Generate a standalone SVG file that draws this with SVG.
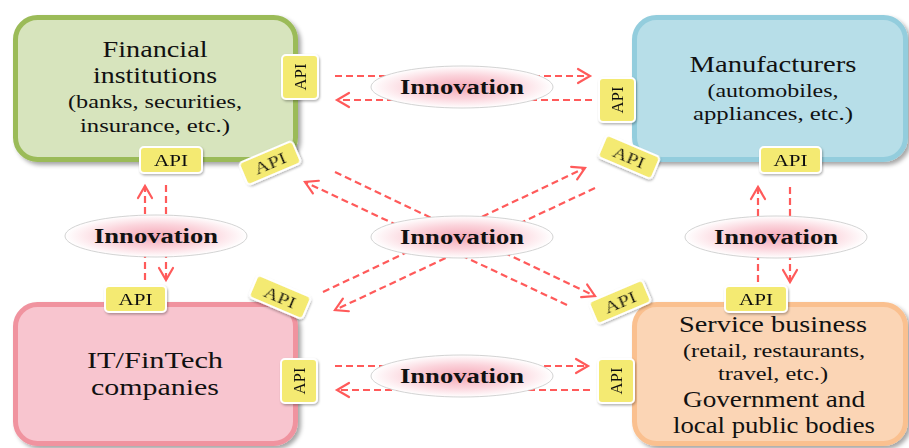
<svg xmlns="http://www.w3.org/2000/svg" width="909" height="448" viewBox="0 0 909 448">
<defs>
  <filter id="sh" x="-10%" y="-10%" width="125%" height="125%">
    <feDropShadow dx="3" dy="3" stdDeviation="2" flood-color="#000" flood-opacity="0.35"/>
  </filter>
  <filter id="sh2" x="-20%" y="-20%" width="150%" height="150%">
    <feDropShadow dx="1" dy="1.5" stdDeviation="1" flood-color="#000" flood-opacity="0.3"/>
  </filter>
  <radialGradient id="pinkglow" cx="50%" cy="50%" r="50%">
    <stop offset="0" stop-color="#f5a9b8"/>
    <stop offset="0.55" stop-color="#fbd3db"/>
    <stop offset="1" stop-color="#ffffff"/>
  </radialGradient>
  <marker id="ah" markerUnits="userSpaceOnUse" markerWidth="18" markerHeight="18" refX="15" refY="9" orient="auto" overflow="visible">
    <path d="M3,2 L15,9 L3,16" fill="none" stroke="#ff5a5a" stroke-width="2.2" stroke-dasharray="none" stroke-linecap="round" stroke-linejoin="miter"/>
  </marker>
</defs>
<style>
  .t { font-family: "Liberation Serif", "Times New Roman", serif; fill: #111; text-anchor: middle; }
  .big { font-size: 23px; }
  .mid { font-size: 19px; }
  .inno { font-family: "Liberation Serif", "Times New Roman", serif; font-weight: bold; font-size: 20px; fill: #111; text-anchor: middle; }
  .api { font-family: "Liberation Serif", "Times New Roman", serif; font-size: 16px; fill: #111; text-anchor: middle; }
  .apibox { fill: #f4ea72; stroke: #ffffff; stroke-width: 2; }
  .ell { fill: url(#pinkglow); stroke: #c8c8c8; stroke-width: 0.8; }
  .conn { fill: none; stroke: #ff5a5a; stroke-width: 2.2; stroke-dasharray: 7 4; marker-end: url(#ah); }
</style>
<rect width="909" height="448" fill="#ffffff"/>

<g id="financial">
  <rect x="15.5" y="17.5" width="280" height="142" rx="22" fill="#d7e4bd" stroke="#9bbb59" stroke-width="5" filter="url(#sh)"/>
  <text class="t big" x="155" y="57" textLength="105" lengthAdjust="spacingAndGlyphs">Financial</text>
  <text class="t big" x="155" y="83" textLength="124" lengthAdjust="spacingAndGlyphs">institutions</text>
  <text class="t mid" x="155" y="108" textLength="174" lengthAdjust="spacingAndGlyphs">(banks, securities,</text>
  <text class="t mid" x="155" y="132" textLength="150" lengthAdjust="spacingAndGlyphs">insurance, etc.)</text>
</g>

<g id="manufacturers">
  <rect x="634.5" y="17.5" width="271" height="142" rx="22" fill="#b7dee8" stroke="#93cddd" stroke-width="5" filter="url(#sh)"/>
  <text class="t big" x="773" y="72" textLength="167" lengthAdjust="spacingAndGlyphs">Manufacturers</text>
  <text class="t mid" x="773" y="97" textLength="131" lengthAdjust="spacingAndGlyphs">(automobiles,</text>
  <text class="t mid" x="773" y="120" textLength="160" lengthAdjust="spacingAndGlyphs">appliances, etc.)</text>
</g>

<g id="itfintech">
  <rect x="15.5" y="304.5" width="280" height="139" rx="22" fill="#f8c5cf" stroke="#f0939f" stroke-width="5" filter="url(#sh)"/>
  <text class="t big" x="155" y="368" textLength="136" lengthAdjust="spacingAndGlyphs">IT/FinTech</text>
  <text class="t big" x="155" y="395" textLength="128" lengthAdjust="spacingAndGlyphs">companies</text>
</g>

<g id="service">
  <rect x="634.5" y="304.5" width="271" height="139" rx="22" fill="#fbd5b5" stroke="#fac08f" stroke-width="5" filter="url(#sh)"/>
  <text class="t big" x="773" y="332" textLength="188" lengthAdjust="spacingAndGlyphs">Service business</text>
  <text class="t mid" x="774" y="357" textLength="182" lengthAdjust="spacingAndGlyphs">(retail,  restaurants,</text>
  <text class="t mid" x="773" y="380" textLength="110" lengthAdjust="spacingAndGlyphs">travel, etc.)</text>
  <text class="t big" x="774" y="407" textLength="182" lengthAdjust="spacingAndGlyphs">Government and</text>
  <text class="t big" x="774" y="433" textLength="202" lengthAdjust="spacingAndGlyphs">local public bodies</text>
</g>

<g id="connectors">
  <path class="conn" d="M335,76 L590,76"/>
  <path class="conn" d="M592,100 L337,100"/>
  <path class="conn" d="M335,366 L588,366"/>
  <path class="conn" d="M590,390 L337,390"/>
  <path class="conn" d="M145,280 L145,186"/>
  <path class="conn" d="M166,185 L166,280"/>
  <path class="conn" d="M758,282 L758,187"/>
  <path class="conn" d="M790,187 L790,282"/>
  <path class="conn" d="M335,172 L595,296"/>
  <path class="conn" d="M567,305 L305,182"/>
  <path class="conn" d="M323,292 L585,168"/>
  <path class="conn" d="M595,188 L335,310"/>
</g>

<g id="innovation-top">
  <ellipse class="ell" cx="462" cy="87" rx="91" ry="21"/>
  <text class="inno" x="462" y="94" textLength="124" lengthAdjust="spacingAndGlyphs">Innovation</text>
</g>
<g id="innovation-center">
  <ellipse class="ell" cx="462" cy="237" rx="91" ry="21"/>
  <text class="inno" x="462" y="244" textLength="124" lengthAdjust="spacingAndGlyphs">Innovation</text>
</g>
<g id="innovation-bottom">
  <ellipse class="ell" cx="462" cy="376" rx="91" ry="21"/>
  <text class="inno" x="462" y="383" textLength="124" lengthAdjust="spacingAndGlyphs">Innovation</text>
</g>
<g id="innovation-left">
  <ellipse class="ell" cx="156" cy="236" rx="91" ry="21"/>
  <text class="inno" x="156" y="243" textLength="124" lengthAdjust="spacingAndGlyphs">Innovation</text>
</g>
<g id="innovation-right">
  <ellipse class="ell" cx="776" cy="237" rx="91" ry="21"/>
  <text class="inno" x="776" y="244" textLength="124" lengthAdjust="spacingAndGlyphs">Innovation</text>
</g>

<g id="api-financial-bottom" filter="url(#sh2)">
  <rect class="apibox" x="140" y="147" width="62" height="26" rx="4"/>
  <text class="api" x="171" y="166" textLength="34" lengthAdjust="spacingAndGlyphs">API</text>
</g>
<g id="api-financial-right" filter="url(#sh2)" transform="translate(300,77)">
  <rect class="apibox" x="-18" y="-22" width="36" height="44" rx="4"/>
  <text class="api" transform="rotate(-90)" x="0" y="6" textLength="27" lengthAdjust="spacingAndGlyphs">API</text>
</g>
<g id="api-financial-diag" filter="url(#sh2)" transform="translate(270,163) rotate(-23)">
  <rect class="apibox" x="-29" y="-12" width="58" height="24" rx="4"/>
  <text class="api" x="0" y="6" textLength="33" lengthAdjust="spacingAndGlyphs">API</text>
</g>

<g id="api-manufacturers-left" filter="url(#sh2)" transform="translate(617,100)">
  <rect class="apibox" x="-18" y="-22" width="36" height="44" rx="4"/>
  <text class="api" transform="rotate(-90)" x="0" y="6" textLength="27" lengthAdjust="spacingAndGlyphs">API</text>
</g>
<g id="api-manufacturers-diag" filter="url(#sh2)" transform="translate(629,157) rotate(23)">
  <rect class="apibox" x="-29" y="-12" width="58" height="24" rx="4"/>
  <text class="api" x="0" y="6" textLength="33" lengthAdjust="spacingAndGlyphs">API</text>
</g>
<g id="api-manufacturers-bottom" filter="url(#sh2)">
  <rect class="apibox" x="760" y="147" width="61" height="26" rx="4"/>
  <text class="api" x="790.5" y="166" textLength="34" lengthAdjust="spacingAndGlyphs">API</text>
</g>

<g id="api-it-top" filter="url(#sh2)">
  <rect class="apibox" x="105" y="286" width="61" height="26" rx="4"/>
  <text class="api" x="135.5" y="305" textLength="34" lengthAdjust="spacingAndGlyphs">API</text>
</g>
<g id="api-it-diag" filter="url(#sh2)" transform="translate(280,297) rotate(23)">
  <rect class="apibox" x="-29" y="-12" width="58" height="24" rx="4"/>
  <text class="api" x="0" y="6" textLength="33" lengthAdjust="spacingAndGlyphs">API</text>
</g>
<g id="api-it-right" filter="url(#sh2)" transform="translate(299,381)">
  <rect class="apibox" x="-18" y="-22" width="36" height="44" rx="4"/>
  <text class="api" transform="rotate(-90)" x="0" y="6" textLength="27" lengthAdjust="spacingAndGlyphs">API</text>
</g>

<g id="api-service-top" filter="url(#sh2)">
  <rect class="apibox" x="725" y="286" width="62" height="26" rx="4"/>
  <text class="api" x="756" y="305" textLength="34" lengthAdjust="spacingAndGlyphs">API</text>
</g>
<g id="api-service-diag" filter="url(#sh2)" transform="translate(620,302) rotate(-23)">
  <rect class="apibox" x="-29" y="-12" width="58" height="24" rx="4"/>
  <text class="api" x="0" y="6" textLength="33" lengthAdjust="spacingAndGlyphs">API</text>
</g>
<g id="api-service-left" filter="url(#sh2)" transform="translate(616,381)">
  <rect class="apibox" x="-18" y="-22" width="36" height="44" rx="4"/>
  <text class="api" transform="rotate(-90)" x="0" y="6" textLength="27" lengthAdjust="spacingAndGlyphs">API</text>
</g>
</svg>
